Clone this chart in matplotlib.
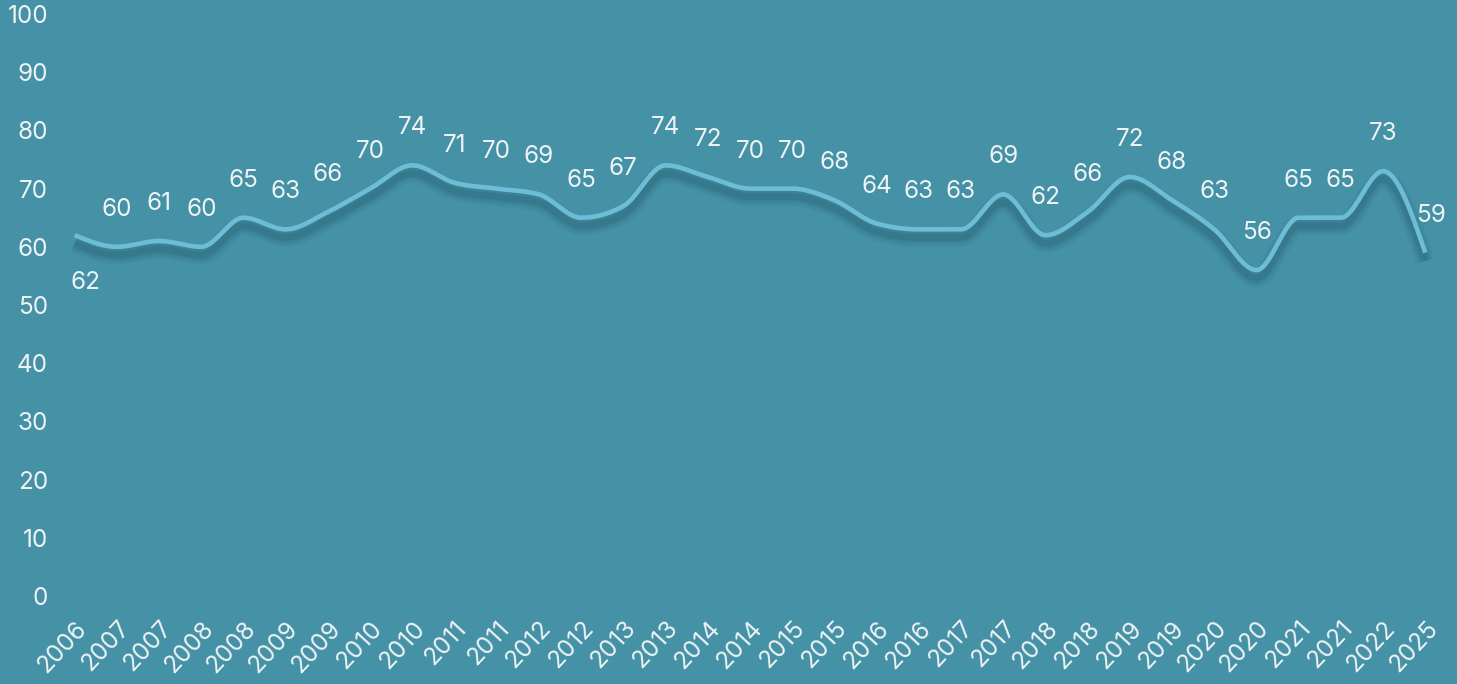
import numpy as np
import matplotlib
matplotlib.use("Agg")
import matplotlib.pyplot as plt

# ----- data -----
labels = ["2006", "2007", "2007", "2008", "2008", "2009", "2009", "2010", "2010",
          "2011", "2011", "2012", "2012", "2013", "2013", "2014", "2014", "2015",
          "2015", "2016", "2016", "2017", "2017", "2018", "2018", "2019", "2019",
          "2020", "2020", "2021", "2021", "2022", "2025"]
values = [62, 60, 61, 60, 65, 63, 66, 70, 74, 71, 70, 69, 65, 67, 74, 72, 70,
          70, 68, 64, 63, 63, 69, 62, 66, 72, 68, 63, 56, 65, 65, 73, 59]
yticks = [0, 10, 20, 30, 40, 50, 60, 70, 80, 90, 100]

BG = "#4591a6"
LINE = "#6dbdd7"
TXT = "#eef3f5"
FS = 17.5

plt.rcParams["font.family"] = ["Inter", "DejaVu Sans"]


# monotone cubic (like d3 curveMonotoneX), only for drawing the smooth path
def monotone_path(y, n=40):
    y = np.asarray(y, dtype=float)
    k = len(y)
    d = np.diff(y)
    t = np.zeros(k)
    for i in range(1, k - 1):
        s0, s1 = d[i - 1], d[i]
        p = (s0 + s1) / 2
        t[i] = (np.sign(s0) + np.sign(s1)) * min(abs(s0), abs(s1), 0.5 * abs(p))
    t[0] = (3 * d[0] - t[1]) / 2
    t[-1] = (3 * d[-1] - t[-2]) / 2
    xs, ys = [], []
    u = np.linspace(0, 1, n, endpoint=False)
    for i in range(k - 1):
        h00 = 2 * u**3 - 3 * u**2 + 1
        h10 = u**3 - 2 * u**2 + u
        h01 = -2 * u**3 + 3 * u**2
        h11 = u**3 - u**2
        xs.append(i + u)
        ys.append(h00 * y[i] + h10 * t[i] + h01 * y[i + 1] + h11 * t[i + 1])
    xs.append([k - 1])
    ys.append([y[-1]])
    return np.concatenate(xs), np.concatenate(ys)


fig = plt.figure(figsize=(14.57, 6.84), dpi=100, facecolor=BG)
ax = fig.add_axes([62 / 1457, 88 / 684, 1376 / 1457, 582 / 684])
ax.set_facecolor(BG)

x = np.arange(len(values))
sx, sy = monotone_path(values)

# soft shadow under the line
for lw, a in [(14, 0.05), (11, 0.07), (8, 0.10), (5, 0.16)]:
    ax.plot(sx, sy - 1.4, color="#1c4f60", lw=lw, alpha=a,
            solid_capstyle="butt", zorder=2)
ax.plot(sx, sy, color=LINE, lw=3.3, solid_capstyle="butt", zorder=3)

for i, v in enumerate(values):
    if i == 0:
        off = (8, -34)
    elif i == len(values) - 1:
        off = (4, 27)
    else:
        off = (0, 27)
    ax.annotate(str(v), (i, v), xytext=off, textcoords="offset points",
                ha="center", va="center", color=TXT, fontsize=FS, zorder=4)

ax.set_xlim(-0.3, len(values) - 1 + 0.3)
ax.set_ylim(0, 100)
ax.set_yticks(yticks)
ax.set_xticks(x)
ax.set_xticklabels(labels, rotation=47, ha="right", va="top",
                   rotation_mode="anchor")
ax.tick_params(axis="both", length=0, colors=TXT, labelsize=FS)
ax.tick_params(axis="y", pad=10)
ax.tick_params(axis="x", pad=15)
for s in ax.spines.values():
    s.set_visible(False)

fig.savefig("out.png", dpi=100, facecolor=BG)
